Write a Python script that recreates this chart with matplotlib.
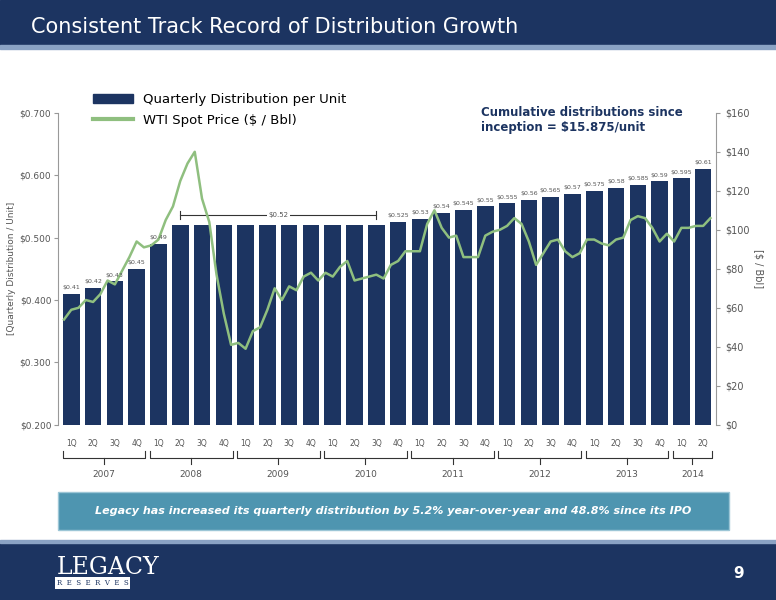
import matplotlib.pyplot as plt
import matplotlib.transforms as mtransforms
from matplotlib.patches import Rectangle
import numpy as np

years = ['2007', '2008', '2009', '2010', '2011', '2012', '2013', '2014']
quarters_per_year = [4, 4, 4, 4, 4, 4, 4, 2]
distribution = [0.41, 0.42, 0.43, 0.45,
                0.49, 0.52, 0.52, 0.52,
                0.52, 0.52, 0.52, 0.52,
                0.52, 0.52, 0.52, 0.525,
                0.53, 0.54, 0.545, 0.55,
                0.555, 0.56, 0.565, 0.57,
                0.575, 0.58, 0.585, 0.59,
                0.595, 0.61]
bar_labels = ['$0.41', '$0.42', '$0.43', '$0.45', '$0.49', '', '', '', '', '', '', '', '', '', '',
              '$0.525', '$0.53', '$0.54', '$0.545', '$0.55', '$0.555', '$0.56', '$0.565', '$0.57',
              '$0.575', '$0.58', '$0.585', '$0.59', '$0.595', '$0.61']
# WTI monthly average, Jan 2007 - Jun 2014
wti = [54, 59, 60, 64, 63, 67, 74, 72, 79, 86, 94, 91,
       92, 95, 105, 112, 125, 134, 140, 116, 104, 77, 57, 41,
       42, 39, 48, 50, 59, 70, 64, 71, 69, 76, 78, 74,
       78, 76, 81, 84, 74, 75, 76, 77, 75, 82, 84, 89,
       89, 89, 103, 110, 101, 96, 97, 86, 86, 86, 97, 99,
       100, 102, 106, 103, 94, 82, 88, 94, 95, 89, 86, 88,
       95, 95, 93, 92, 95, 96, 105, 107, 106, 101, 94, 98,
       94, 101, 101, 102, 102, 106]

navy = '#1c3461'
green = '#8fbf7f'
grey = '#555555'

fig = plt.figure(figsize=(7.76, 6), dpi=100)

# header and footer
fig.patches.append(Rectangle((0, 0.925), 1, 0.075, transform=fig.transFigure, color=navy, zorder=0))
fig.patches.append(Rectangle((0, 0.918), 1, 0.007, transform=fig.transFigure, color='#8aa2c4', zorder=0))
fig.text(0.04, 0.955, 'Consistent Track Record of Distribution Growth', color='white', fontsize=15, va='center')
fig.patches.append(Rectangle((0, 0), 1, 0.095, transform=fig.transFigure, color=navy, zorder=0))
fig.patches.append(Rectangle((0, 0.095), 1, 0.005, transform=fig.transFigure, color='#8aa2c4', zorder=0))
fig.text(0.073, 0.055, 'LEGACY', color='white', fontsize=17, family='serif', va='center')
fig.text(0.073, 0.028, 'R  E  S  E  R  V  E  S', color=navy, fontsize=5, family='serif', va='center',
         bbox=dict(facecolor='white', edgecolor='none', pad=1.5))
fig.text(0.945, 0.045, '9', color='white', fontsize=11, fontweight='bold', va='center')

# teal message box
fig.patches.append(Rectangle((0.075, 0.117), 0.864, 0.063, transform=fig.transFigure,
                             facecolor='#4e95b0', edgecolor='#9cc6d6', zorder=0))
fig.text(0.507, 0.148, 'Legacy has increased its quarterly distribution by 5.2% year-over-year and 48.8% since its IPO',
         color='white', fontsize=8, fontstyle='italic', fontweight='bold', ha='center', va='center')

ax = fig.add_axes([0.075, 0.292, 0.848, 0.52])
x = np.arange(len(distribution))
ax.bar(x, np.array(distribution) - 0.2, bottom=0.2, width=0.76, color=navy, zorder=2)
ax.set_xlim(-0.6, len(distribution) - 0.4)
ax.set_ylim(0.2, 0.7)
ax.set_yticks(np.arange(0.2, 0.71, 0.1))
ax.set_yticklabels([f'${v:.3f}' for v in np.arange(0.2, 0.71, 0.1)], fontsize=6.5, color=grey)
ax.set_ylabel('[Quarterly Distribution / Unit]', fontsize=6.5, color=grey)
ax.yaxis.set_label_coords(-0.064, 0.5)
ax.set_xticks([])
for s in ['top', 'right', 'bottom']:
    ax.spines[s].set_visible(False)
ax.spines['left'].set_color('#999999')
ax.tick_params(axis='y', length=3, color='#999999', pad=2)

for i, (v, lab) in enumerate(zip(distribution, bar_labels)):
    if lab:
        ax.text(i, v + 0.006, lab, ha='center', va='bottom', fontsize=4.5, color=grey, zorder=5)
# bracket for $0.52 run
ax.plot([5, 14], [0.536, 0.536], color='#333333', lw=0.8)
ax.plot([5, 5], [0.53, 0.542], color='#333333', lw=0.8)
ax.plot([14, 14], [0.53, 0.542], color='#333333', lw=0.8)
ax.text(9.5, 0.536, '$0.52', ha='center', va='center', fontsize=5, color=grey,
        bbox=dict(facecolor='white', edgecolor='none', pad=1))

ax2 = ax.twinx()
ax2.set_ylim(0, 160)
ax2.set_yticks(range(0, 161, 20))
ax2.set_yticklabels([f'${v}' for v in range(0, 161, 20)], fontsize=7, color=grey)
ax2.set_ylabel('[$ / Bbl]', fontsize=7, color=grey, rotation=270, labelpad=10)
for s in ['top', 'left', 'bottom']:
    ax2.spines[s].set_visible(False)
ax2.spines['right'].set_color('#999999')
ax2.tick_params(axis='y', length=3, color='#999999')
ax.set_zorder(ax2.get_zorder() + 1)
ax.patch.set_visible(False)
# line drawn on the bar axes, scaled to the right-hand axis
mx = np.arange(len(wti)) / 3 - 1 / 3
ax.plot(mx, np.array(wti) / 160 * 0.5 + 0.2, color=green, lw=1.8, zorder=3)

h1 = Rectangle((0, 0), 1, 1, color=navy)
h2 = plt.Line2D([], [], color=green, lw=3)
fig.legend([h1, h2], ['Quarterly Distribution per Unit', 'WTI Spot Price ($ / Bbl)'],
           loc='upper left', bbox_to_anchor=(0.105, 0.865), frameon=False, fontsize=9.5,
           handlelength=3, labelspacing=0.6)
fig.text(0.62, 0.8, 'Cumulative distributions since\ninception = $15.875/unit', fontsize=8.5,
         fontweight='bold', color=navy, va='center')

# quarter labels and year brackets
tr = mtransforms.blended_transform_factory(ax.transData, ax.transAxes)
start = 0
for yr, n in zip(years, quarters_per_year):
    for k in range(n):
        ax.text(start + k, -0.06, f'{k + 1}Q', transform=tr, ha='center', va='center', fontsize=5.5, color=grey)
    a, b = start - 0.4, start + n - 0.6
    mid = (a + b) / 2
    ax.plot([a, a, b, b], [-0.085, -0.105, -0.105, -0.085], transform=tr, color='#333333', lw=0.8, clip_on=False)
    ax.plot([mid, mid], [-0.105, -0.125], transform=tr, color='#333333', lw=0.8, clip_on=False)
    ax.text(mid, -0.16, yr, transform=tr, ha='center', va='center', fontsize=6.5, color=grey)
    start += n

fig.savefig('out.png', dpi=100)
